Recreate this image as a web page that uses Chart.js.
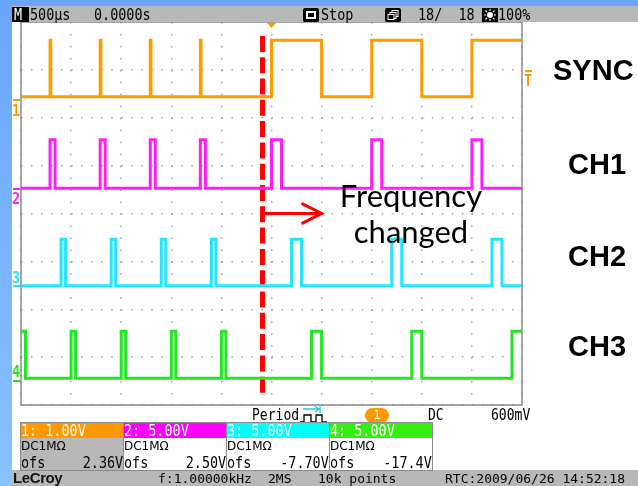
<!DOCTYPE html>
<html>
<head>
<meta charset="utf-8">
<script src="https://cdn.jsdelivr.net/npm/chart.js@4.4.1/dist/chart.umd.min.js"></script>
<style>
  html, body { margin: 0; padding: 0; background: #fff; }
  #wrap { position: relative; width: 638px; height: 486px; overflow: hidden; background: #fff; }
  #scope { position: absolute; left: 0; top: 0; }
  .blk { position: absolute; }
  .t { position: absolute; white-space: pre; font-family: 'DejaVu Sans Mono', monospace; font-size: 16px; line-height: 16px; transform: scaleX(0.84); transform-origin: 0 0; color: #000; }
  .r { transform-origin: 100% 0; }
  .s { font-size: 13px; line-height: 13px; transform: none; }
  .p { font-size: 15px; line-height: 15px; transform: scaleX(0.87); }
  .pn { position: absolute; top: 422px; width: 102px; height: 47px; border: 1px solid #8c8c8c; background: #fff; }
  .pn .hd { position: absolute; left: 0; top: 0; width: 102px; height: 15px; }
  .pn .t { color: #000; }
  .pn .hd .t { color: #fff; left: 0; top: 0; }
  .pn .dc { position: absolute; left: 0; top: 17px; font-family: 'DejaVu Sans', sans-serif; font-size: 12px; line-height: 12px; }
  .lbl { position: absolute; font-family: 'Liberation Sans', Arial, sans-serif; font-weight: bold; font-size: 29px; line-height: 29px; color: #000; }
  .note { position: absolute; left: 311px; top: 177px; width: 200px; text-align: center; font-family: Lato, sans-serif; font-size: 31px; line-height: 36px; color: #000; }
</style>
</head>
<body>
<div id="wrap">
  <canvas id="scope" width="638" height="486"></canvas>

  <!-- frame of the scope screen -->
  <div class="blk" style="left:0;top:0;width:12px;height:486px;background:linear-gradient(#69a6fa,#88c2ff)"></div>
  <div class="blk" style="left:0;top:0;width:638px;height:6px;background:#6aa7fa"></div>
  <div class="blk" style="left:12px;top:6px;width:626px;height:16px;background:#b8b8b8"></div>
  <div class="blk" style="left:12px;top:470px;width:626px;height:16px;background:#b8b8b8"></div>

  <!-- top bar -->
  <div class="blk" style="left:12px;top:7px;width:17px;height:15px;background:#000"></div>
  <span class="t" style="left:14px;top:7px;color:#fff">M</span>
  <span class="t" style="left:30px;top:7px">500µs</span>
  <span class="t" style="left:94px;top:7px">0.0000s</span>
  <svg class="blk" style="left:303px;top:8px" width="16" height="14">
    <rect x="0" y="0" width="16" height="14" rx="2" fill="#000"/>
    <rect x="3" y="3" width="10" height="8" fill="#fff"/>
    <rect x="5" y="5" width="6" height="4" fill="#000"/>
  </svg>
  <span class="t" style="left:321px;top:7px">Stop</span>
  <svg class="blk" style="left:385px;top:8px" width="16" height="14">
    <rect x="0" y="0" width="16" height="14" rx="2" fill="#000"/>
    <rect x="7" y="2.5" width="6" height="6" fill="none" stroke="#fff"/>
    <rect x="5" y="4.5" width="6" height="6" fill="#000" stroke="#fff"/>
    <rect x="3" y="6.5" width="6" height="5" fill="#000" stroke="#fff"/>
  </svg>
  <span class="t" style="left:418px;top:7px">18/  18</span>
  <svg class="blk" style="left:482px;top:8px" width="16" height="14">
    <rect x="0" y="0" width="16" height="14" fill="#000"/>
    <circle cx="8" cy="7" r="3" fill="#fff"/>
    <path d="M8 1V3M8 11V13M2 7H4M12 7H14M3.5 2.5L5 4M12.5 2.5L11 4M3.5 11.5L5 10M12.5 11.5L11 10" stroke="#fff" stroke-width="1.2"/>
  </svg>
  <span class="t" style="left:498px;top:7px">100%</span>

  <!-- channel markers and trigger -->
  <div class="blk" style="left:13px;top:99px;width:7px;height:2px;background:#ff9900"></div>
  <span class="t" style="left:12px;top:103px;color:#ff9900;font-weight:bold">1</span>
  <div class="blk" style="left:13px;top:188px;width:7px;height:2px;background:#ff22ff"></div>
  <span class="t" style="left:12px;top:191px;color:#ff22ff;font-weight:bold">2</span>
  <span class="t" style="left:12px;top:270px;color:#22e6ff;font-weight:bold">3</span>
  <div class="blk" style="left:13px;top:285px;width:7px;height:2px;background:#22e6ff"></div>
  <span class="t" style="left:12px;top:364px;color:#22e622;font-weight:bold">4</span>
  <div class="blk" style="left:13px;top:380px;width:7px;height:2px;background:#22e622"></div>
  <div class="blk" style="left:525px;top:70px;width:7px;height:2px;background:#ff9900"></div>
  <span class="t" style="left:524px;top:73px;color:#ff9900;font-weight:bold">T</span>
  <svg class="blk" style="left:267px;top:23px" width="10" height="7">
    <polygon points="0,0 9,0 4.5,5" fill="#ff9900"/>
  </svg>

  <!-- annotations -->
  <div class="lbl" style="left:553px;top:56px">SYNC</div>
  <div class="lbl" style="left:568px;top:150px">CH1</div>
  <div class="lbl" style="left:568px;top:242px">CH2</div>
  <div class="lbl" style="left:568px;top:332px">CH3</div>
  <div class="note">Frequency<br>changed</div>

  <!-- trigger line -->
  <span class="t p" style="left:252px;top:408px">Period</span>
  <svg class="blk" style="left:300px;top:404px" width="38" height="20">
    <path d="M3 5H19M15 2L19 5L15 8M20 1V9" stroke="#22ccee" stroke-width="1.3" fill="none"/>
    <path d="M0 18H4V11H11V18H16V11H22V18H27" stroke="#000" stroke-width="1.3" fill="none"/>
  </svg>
  <div class="blk" style="left:365px;top:408px;width:24px;height:15px;border-radius:8px;background:#ff9900"></div>
  <span class="blk" style="left:365px;top:408px;width:24px;text-align:center;font-family:'DejaVu Sans',sans-serif;font-size:12px;line-height:15px;color:#fff">1</span>
  <span class="t p" style="left:428px;top:408px">DC</span>
  <span class="t p" style="left:491px;top:408px">600mV</span>

  <!-- channel panels -->
  <div class="pn" style="left:20px;background:#b8b8b8">
    <div class="hd" style="background:#ff9900"><span class="t">1: 1.00V</span></div>
    <span class="dc">DC1MΩ</span>
    <span class="t" style="left:0;top:32px">ofs</span>
    <span class="t r" style="right:0;top:32px">2.36V</span>
  </div>
  <div class="pn" style="left:123px">
    <div class="hd" style="background:#ff00ff"><span class="t">2: 5.00V</span></div>
    <span class="dc">DC1MΩ</span>
    <span class="t" style="left:0;top:32px">ofs</span>
    <span class="t r" style="right:0;top:32px">2.50V</span>
  </div>
  <div class="pn" style="left:226px">
    <div class="hd" style="background:#00ffff"><span class="t">3: 5.00V</span></div>
    <span class="dc">DC1MΩ</span>
    <span class="t" style="left:0;top:32px">ofs</span>
    <span class="t r" style="right:0;top:32px">-7.70V</span>
  </div>
  <div class="pn" style="left:329px">
    <div class="hd" style="background:#33ee11"><span class="t">4: 5.00V</span></div>
    <span class="dc">DC1MΩ</span>
    <span class="t" style="left:0;top:32px">ofs</span>
    <span class="t r" style="right:0;top:32px">-17.4V</span>
  </div>

  <!-- status bar -->
  <span class="blk" style="left:13px;top:470px;font-family:'Liberation Sans',Arial,sans-serif;font-weight:bold;font-size:15px;line-height:16px;letter-spacing:-0.4px;color:#111"><span style="border-bottom:1px solid #111">Le</span>Croy</span>
  <span class="t s" style="left:158px;top:472px">f:1.00000kHz</span>
  <span class="t s" style="left:268px;top:472px">2MS</span>
  <span class="t s" style="left:318px;top:472px">10k points</span>
  <span class="t s" style="left:445px;top:472px">RTC:2009/06/26 14:52:18</span>
</div>

<script>
// Time axis in ms (500 µs/div, trigger at 0), vertical axis in screen divisions (0 = bottom, 8 = top)

    const timeRange = [-2.5, 2.5];
    const divRange = [0, 8];

    // [low, high] level of each trace
    const syncLevels = [6.44, 7.62];
    const ch1Levels = [4.53, 5.54];
    const ch2Levels = [2.49, 3.46];
    const ch3Levels = [0.56, 1.54];

    // high pulses [start, end] in ms
    const syncPulses = [[-2.21, -2.203], [-1.71, -1.703], [-1.21, -1.203], [-0.71, -0.703], [0, 0.5], [1, 1.5], [2, 2.6]];
    const ch1Pulses = [[-2.21, -2.16], [-1.71, -1.66], [-1.21, -1.16], [-0.71, -0.66], [0, 0.1], [1, 1.1], [2, 2.1]];
    const ch2Pulses = [[-2.1, -2.055], [-1.6, -1.555], [-1.1, -1.055], [-0.6, -0.555], [0.2, 0.3], [1.2, 1.3], [2.2, 2.3]];
    const ch3Pulses = [[-2.6, -2.455], [-2, -1.955], [-1.5, -1.455], [-1, -0.955], [-0.5, -0.455], [0.4, 0.5], [1.4, 1.5], [2.4, 2.6]];

    // "frequency changed" marker
    const changeTime = -0.09;
    const changeSpan = [7.71, 0.25];
    const arrowLevel = 4;
    const arrowTip = 0.5;
    const arrowHead = [[0.3, 4.21], [0.5, 4], [0.3, 3.79]];

// build a stepped trace from pulse list
    function trace(pulses, lv) {
        const pts = [{ x: -2.7, y: lv[0] }];
        pulses.forEach(p => {
            pts.push({ x: p[0], y: lv[1] });
            pts.push({ x: p[1], y: lv[0] });
        });
        pts.push({ x: 2.7, y: lv[0] });
        return pts;
    }

    function wave(label, pulses, lv, color) {
        return {
            label: label,
            data: trace(pulses, lv),
            borderColor: color,
            borderWidth: 3,
            stepped: true,
            pointRadius: 0,
            clip: 0,
        };
    }

    const framePlugin = {
        id: 'frame',
        beforeDatasetsDraw(chart) {
            const { ctx, chartArea: a } = chart;
            ctx.save();
            ctx.strokeStyle = '#8a8a8a';
            ctx.lineWidth = 1.5;
            ctx.strokeRect(a.left, a.top, a.right - a.left, a.bottom - a.top);
            ctx.restore();
        }
    };

    const cs = document.getElementById('scope').getContext('2d');

    const scope = new Chart(cs, {
        type: 'line',
        data: {
            datasets: [
                wave('SYNC', syncPulses, syncLevels, '#ff9c00'),
                wave('CH1', ch1Pulses, ch1Levels, '#ff1cff'),
                wave('CH2', ch2Pulses, ch2Levels, '#22e6ff'),
                wave('CH3', ch3Pulses, ch3Levels, '#22e622'),
                {
                    label: 'change',
                    data: [{ x: changeTime, y: changeSpan[0] }, { x: changeTime, y: changeSpan[1] }],
                    borderColor: '#ff0000',
                    borderWidth: 5,
                    borderDash: [16, 5.3],
                    pointRadius: 0,
                    clip: false,
                },
                {
                    label: 'arrow',
                    data: [{ x: changeTime, y: arrowLevel }, { x: arrowTip, y: arrowLevel }],
                    borderColor: '#ff0000',
                    borderWidth: 3,
                    pointRadius: 0,
                },
                {
                    label: 'head',
                    data: arrowHead.map(p => ({ x: p[0], y: p[1] })),
                    borderColor: '#ff0000',
                    borderWidth: 3,
                    pointRadius: 0,
                },
            ]
        },
        options: {
            responsive: false,
            animation: false,
            layout: { padding: { left: 21, top: 22, right: 116, bottom: 81 } },
            plugins: { legend: { display: false }, tooltip: { enabled: false } },
            scales: {
                x: {
                    type: 'linear',
                    min: timeRange[0],
                    max: timeRange[1],
                    ticks: { display: false, stepSize: 0.5 },
                    grid: { color: '#a5a5a5', lineWidth: 1.5, drawTicks: false },
                    border: { display: false, dash: [1.5, 10.47] },
                    afterFit: s => { s.height = 0; },
                },
                y: {
                    type: 'linear',
                    min: divRange[0],
                    max: divRange[1],
                    ticks: { display: false, stepSize: 1 },
                    grid: { color: '#a5a5a5', lineWidth: 1.5, drawTicks: false },
                    border: { display: false, dash: [1.5, 8.52] },
                    afterFit: s => { s.width = 0; },
                },
            }
        },
        plugins: [framePlugin]
    });
</script>
</body>
</html>
